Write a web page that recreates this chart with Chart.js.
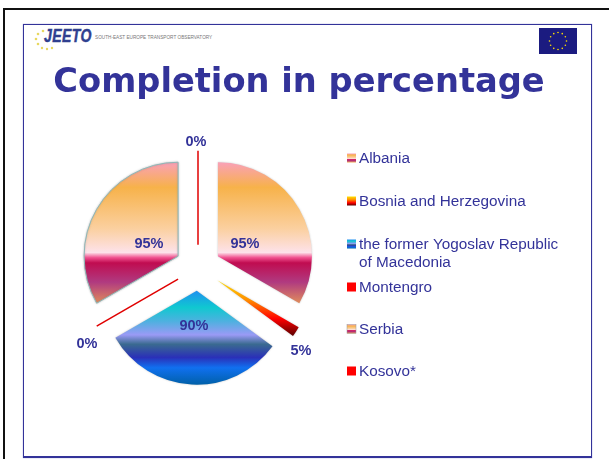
<!DOCTYPE html>
<html>
<head>
<meta charset="utf-8">
<style>
  html, body { margin: 0; background: #fff; overflow: hidden; }
  .black-top { position: absolute; left: 3px; top: 8px; width: 606px; height: 2px; background: #111; }
  .black-left { position: absolute; left: 3px; top: 8px; width: 2px; height: 451px; background: #111; }
  .blue-frame { position: absolute; left: 23px; top: 24px; width: 567px; height: 431px; border: 1px solid #333399; border-bottom-width: 2px; box-shadow: 0 0 1px #8888cc; }
  #logo { position: absolute; left: 44px; top: 25px; font: italic 900 19px "Liberation Sans", sans-serif; color: #2f3f8f; letter-spacing: 0.5px; -webkit-text-stroke: 0.5px #2f3f8f; transform: scaleX(0.74); transform-origin: left top; }
  #tag { position: absolute; left: 95px; top: 35px; font: 4.7px "Liberation Sans", sans-serif; color: #777; white-space: nowrap; }
  svg { position: absolute; }
  canvas { position: absolute; left: 0; top: 0; }
</style>
</head>
<body>
<div class="black-top"></div>
<div class="black-left"></div>
<div class="blue-frame"></div>
<svg style="left:33px;top:28px" width="24" height="24">
  <g fill="#e8d860">
    <circle cx="10" cy="3" r="1.3"/><circle cx="5" cy="6" r="1.3"/><circle cx="3" cy="11" r="1.3"/>
    <circle cx="5" cy="16" r="1.3"/><circle cx="9" cy="20" r="1.2"/><circle cx="14" cy="21" r="1.2"/><circle cx="19" cy="20" r="1.2"/>
  </g>
</svg>
<div id="logo">JEETO</div>
<div id="tag">SOUTH-EAST EUROPE TRANSPORT OBSERVATORY</div>
<svg style="left:539px;top:28px" width="38" height="26">
  <rect width="38" height="26" fill="#1b1b80"/>
  <g id="stars" fill="#ffe000"></g>
</svg>
<canvas id="myChart" width="598" height="459"></canvas>
<script src="https://cdn.jsdelivr.net/npm/chart.js@4"></script>
<script>
const paises = ["Albania", "Bosnia and Herzegovina", "the former Yogoslav Republic of Macedonia", "Montengro", "Serbia", "Kosovo*"];
const completado = [95, 5, 90, 0, 95, 0];

const AZUL = "#333399";
const RADIO = 94;
const SEPARACION = 23;

const degradadoNaranja = [[0, "#f9a0b8"], [0.17, "#f7b24a"], [0.45, "#fbd0a0"], [0.61, "#fde2ea"], [0.645, "#f0508f"], [0.68, "#c00c50"], [0.81, "#b03a80"], [1, "#f0a850"]];
const degradadoRojo = [[0, "#ffe000"], [0.35, "#ff9000"], [0.7, "#ff0000"], [1, "#600000"]];
const degradadoAzul = [[0, "#1e90f0"], [0.18, "#10c8d0"], [0.33, "#50b0e0"], [0.47, "#9a9af5"], [0.57, "#3a6a90"], [0.71, "#2a30b8"], [0.82, "#1070f0"], [1, "#0060a8"]];

const degradados = [degradadoNaranja, degradadoRojo, degradadoAzul, null, degradadoNaranja, null];
const alturas = [[-94, 54], [0, 55], [0, 94], null, [-94, 54], null]; // zona del degradado respecto al centro
const bordes = [0, 0, 0, 0, 1, 0];
const posEtiquetas = [[47, -24], [103, 83], [-4, 58], [-111, 76], [-49, -24], [-2, -126]];
const posLeyenda = [159, 202, 245, 288, 330, 372];

const crearDegradado = (ctx, y0, y1, stops) => {
  const g = ctx.createLinearGradient(0, y0, 0, y1);
  stops.forEach(([p, c]) => g.addColorStop(p, c));
  return g;
};

const rellenoSector = (c) => {
  const i = c.dataIndex;
  if (!degradados[i] || !c.chart.chartArea) return "#ff0000";
  const cy = (c.chart.chartArea.top + c.chart.chartArea.bottom) / 2;
  return crearDegradado(c.chart.ctx, cy + alturas[i][0], cy + alturas[i][1], degradados[i]);
};

// Chart.js no separa los sectores de verdad, asi que se mueve cada arco
const sectoresSeparados = {
  id: "sectoresSeparados",
  afterLayout(chart) {
    // el titulo ocupa todo el ancho, la tarta solo la parte izquierda
    chart.chartArea.right = 396;
    chart.chartArea.width = 396;
  },
  beforeDatasetDraw(chart) {
    const ctx = chart.ctx;
    chart.getDatasetMeta(0).data.forEach((arco, i) => {
      const medio = (arco.startAngle + arco.endAngle) / 2;
      ctx.save();
      ctx.translate(Math.cos(medio) * SEPARACION, Math.sin(medio) * SEPARACION);
      if (completado[i] === 0) {
        ctx.strokeStyle = "#e00000";
        ctx.lineWidth = 1.5;
        ctx.beginPath();
        ctx.moveTo(arco.x, arco.y);
        ctx.lineTo(arco.x + Math.cos(medio) * arco.outerRadius, arco.y + Math.sin(medio) * arco.outerRadius);
        ctx.stroke();
      } else {
        ctx.shadowColor = "rgba(120,120,120,0.45)";
        ctx.shadowBlur = 2;
        arco.draw(ctx);
      }
      ctx.restore();
    });
    return false;
  },
  afterDatasetsDraw(chart) {
    const ctx = chart.ctx;
    const arcos = chart.getDatasetMeta(0).data;
    ctx.save();
    ctx.font = 'bold 14.5px "Liberation Sans"';
    ctx.fillStyle = AZUL;
    ctx.textAlign = "center";
    ctx.textBaseline = "middle";
    arcos.forEach((arco, i) => {
      ctx.fillText(completado[i] + "%", arco.x + posEtiquetas[i][0], arco.y + posEtiquetas[i][1]);
    });
    ctx.restore();
  },
};

const leyenda = {
  id: "leyenda",
  afterDraw(chart) {
    const ctx = chart.ctx;
    ctx.save();
    ctx.font = '15.3px "Liberation Sans"';
    ctx.textBaseline = "middle";
    paises.forEach((pais, i) => {
      const y = posLeyenda[i];
      ctx.fillStyle = degradados[i] ? crearDegradado(ctx, y - 5.5, y + 3.5, degradados[i]) : "#ff0000";
      ctx.fillRect(347, y - 5.5, 9, 9);
      if (i === 4) {
        ctx.strokeStyle = "#999";
        ctx.lineWidth = 0.5;
        ctx.strokeRect(347, y - 5.5, 9, 9);
      }
      ctx.fillStyle = AZUL;
      if (i === 2) {
        ctx.fillText("the former Yogoslav Republic", 359, y);
        ctx.fillText("of Macedonia", 359, y + 18);
      } else {
        ctx.fillText(pais, 359, y);
      }
    });
    ctx.restore();
  },
};

const estrellas = document.getElementById("stars");
for (let k = 0; k < 12; k++) {
  const a = (k * Math.PI) / 6;
  const s = document.createElementNS("http://www.w3.org/2000/svg", "circle");
  s.setAttribute("cx", 19 + Math.cos(a) * 8.5);
  s.setAttribute("cy", 13 + Math.sin(a) * 8.5);
  s.setAttribute("r", 0.8);
  estrellas.appendChild(s);
}

new Chart(document.getElementById("myChart"), {
  type: "pie",
  data: {
    labels: paises,
    datasets: [
      {
        data: completado,
        backgroundColor: rellenoSector,
        borderColor: "#8fb8b8",
        borderWidth: bordes,
      },
    ],
  },
  options: {
    responsive: false,
    animation: false,
    radius: RADIO,
    layout: { padding: { left: 0, right: 0, top: 0, bottom: 27 } },
    plugins: {
      legend: { display: false },
      tooltip: { enabled: false },
      title: {
        display: true,
        text: "Completion in percentage",
        color: AZUL,
        font: { family: '"DejaVu Sans"', size: 33.7, weight: "bold", lineHeight: 1.2 },
        padding: { top: 63, bottom: 0 },
      },
    },
  },
  plugins: [sectoresSeparados, leyenda],
});
</script>
</body>
</html>
